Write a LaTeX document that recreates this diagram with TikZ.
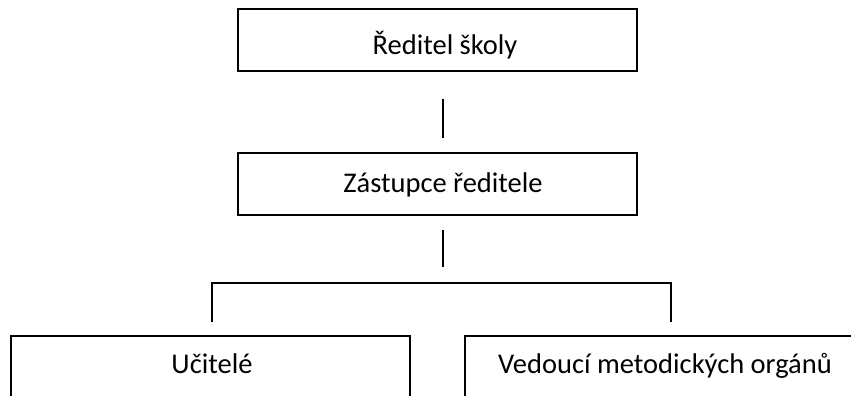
\documentclass[tikz,border=0pt]{standalone}
\usepackage{fontspec}
\setmainfont{Carlito}
\usepackage{tikz}
\tikzstyle{box}=[draw=black,line width=1.6pt,rectangle,minimum width=399pt,minimum height=62pt,inner sep=0pt,outer sep=0pt]
\tikzstyle{lbl}=[anchor=base,inner sep=0pt,font=\fontsize{28.5}{34}\selectfont]
\tikzstyle{link}=[draw=black,line width=1.8pt]

\begin{document}
\begin{tikzpicture}[x=1pt,y=-1pt]
    \clip (0,0) rectangle (851,396);

    \node[box] (director)  at (437.5, 40)  {};
    \node[box] (deputy)    at (437.5, 184) {};
    \node[box] (teachers)  at (210.5, 367) {};
    \node[box] (heads)     at (664.5, 367) {};

    \node[lbl] (director-t) at (445, 55)  {Ředitel školy};
    \node[lbl] (deputy-t)   at (443, 192) {Zástupce ředitele};
    \node[lbl] (teachers-t) at (212, 373) {Učitelé};
    \node[lbl] (heads-t)    at (665, 373) {Vedoucí metodických orgánů};

    \coordinate (bar) at (443, 283);

    \draw[link,shorten <=28pt,shorten >=15pt]
      ([xshift=5.5pt]director.south) -- ([xshift=5.5pt]deputy.north);
    \draw[link,shorten <=15pt,shorten >=16pt]
      ([xshift=5.5pt]deputy.south) -- (bar);
    \draw[link]
      ([xshift=1.5pt,yshift=14pt]teachers.north) |- (bar)
      -| ([xshift=6.5pt,yshift=14pt]heads.north);

\end{tikzpicture}
\end{document}
